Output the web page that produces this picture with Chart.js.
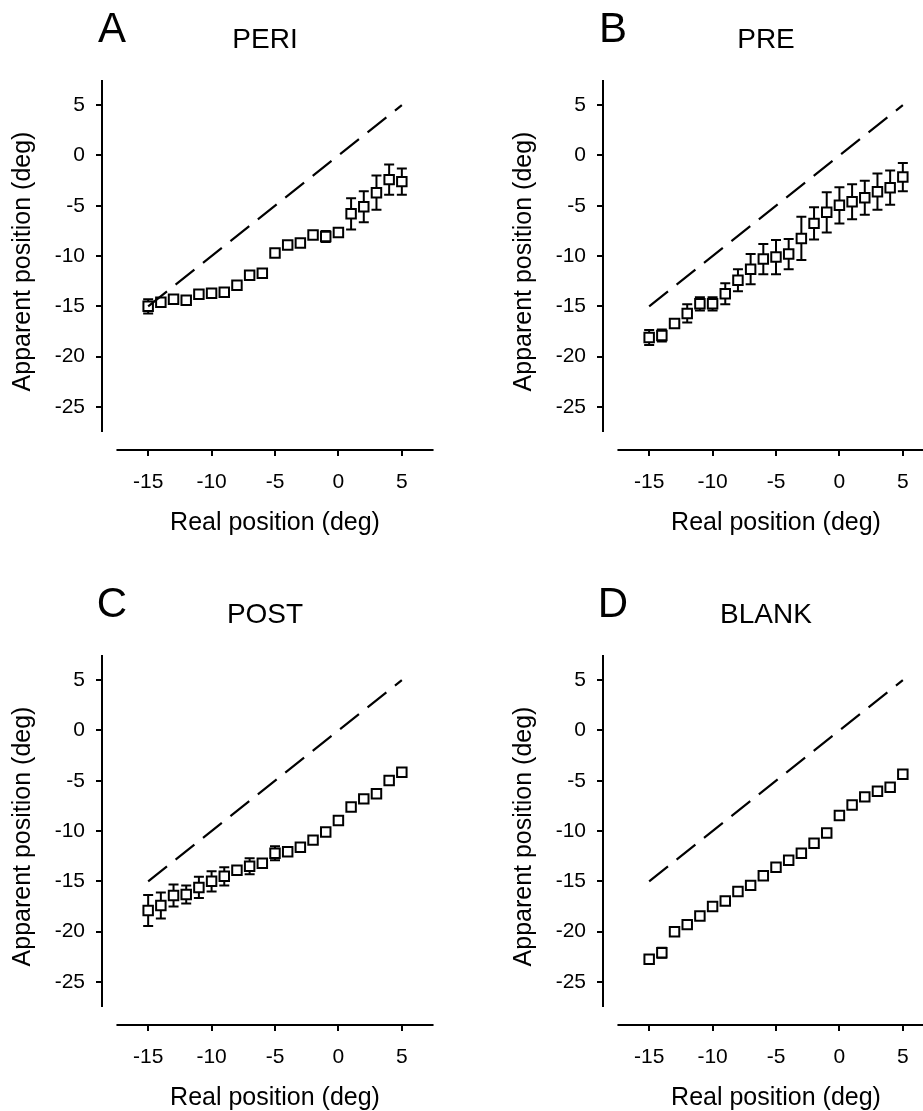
<!DOCTYPE html>
<html>
<head>
<meta charset="utf-8">
<script src="https://cdn.jsdelivr.net/npm/chart.js@4.4.0/dist/chart.umd.min.js"></script>
<style>
body { margin:0; background:#fff; overflow:hidden; width:923px; height:1111px; position:relative;
       font-family:"Liberation Sans", Arial, sans-serif; }
.panel { position:absolute; width:460px; height:560px; }
.lbl { position:absolute; transform:translate(-50%,-50%); line-height:1; color:#000; white-space:nowrap; }
</style>
</head>
<body>

<div class="panel" style="left:0px;top:0px"><canvas id="chartA"></canvas></div>
<div class="panel" style="left:501px;top:0px"><canvas id="chartB"></canvas></div>
<div class="panel" style="left:0px;top:575px"><canvas id="chartC"></canvas></div>
<div class="panel" style="left:501px;top:575px"><canvas id="chartD"></canvas></div>

<div class="lbl" style="left:112px;top:28px;font-size:42px">A</div>
<div class="lbl" style="left:265px;top:39px;font-size:28px">PERI</div>
<div class="lbl" style="left:613px;top:28px;font-size:42px">B</div>
<div class="lbl" style="left:766px;top:39px;font-size:28px">PRE</div>
<div class="lbl" style="left:112px;top:603px;font-size:42px">C</div>
<div class="lbl" style="left:265px;top:614px;font-size:28px">POST</div>
<div class="lbl" style="left:613px;top:603px;font-size:42px">D</div>
<div class="lbl" style="left:766px;top:614px;font-size:28px">BLANK</div>

<script>
// real target positions (deg)
const realPos = [-15,-14,-13,-12,-11,-10,-9,-8,-7,-6,-5,-4,-3,-2,-1,0,1,2,3,4,5];

// apparent position means and error bars
const periMean = [-15.0,-14.6,-14.3,-14.4,-13.8,-13.7,-13.6,-12.9,-11.9,-11.7,-9.7,-8.9,-8.7,-7.9,-8.05,-7.65,-5.8,-5.1,-3.7,-2.4,-2.6];
const periErr  = [0.7,0.3,0.3,0.2,0.2,0.2,0.2,0.2,0.2,0.2,0.3,0.4,0.3,0.4,0.55,0.3,1.55,1.55,1.7,1.5,1.3];

const preMean = [-18.1,-17.9,-16.7,-15.7,-14.75,-14.75,-13.75,-12.4,-11.3,-10.3,-10.1,-9.8,-8.25,-6.75,-5.65,-4.95,-4.6,-4.2,-3.6,-3.2,-2.15];
const preErr  = [0.75,0.6,0.3,0.9,0.65,0.65,1.05,1.1,1.5,1.5,1.7,1.5,2.15,1.6,2.0,1.8,1.75,1.7,1.8,1.7,1.4];

const postMean = [-17.9,-17.4,-16.4,-16.3,-15.6,-15.0,-14.5,-13.9,-13.5,-13.2,-12.2,-12.05,-11.6,-10.9,-10.1,-8.95,-7.6,-6.8,-6.3,-4.97,-4.15];
const postErr  = [1.55,1.3,1.1,0.9,1.05,1.0,0.9,0.3,0.8,0.3,0.7,0.3,0.4,0.3,0.3,0.45,0.3,0.3,0.3,0.3,0.3];

const blankMean = [-22.75,-22.1,-20.0,-19.3,-18.45,-17.5,-16.95,-16.0,-15.4,-14.45,-13.6,-12.9,-12.2,-11.2,-10.2,-8.45,-7.4,-6.6,-6.05,-5.65,-4.35];
const blankErr  = [0.4,0.5,0.2,0.2,0.2,0.2,0.2,0.3,0.2,0.2,0.2,0.2,0.2,0.2,0.35,0.2,0.2,0.2,0.2,0.2,0.2];

// identity (veridical) line end points
const identityX = [-15, 5];

const xTicks = [-15,-10,-5,0,5];
const yTicks = [5,0,-5,-10,-15,-20,-25];

// drawn extent of the axis lines
const xAxisSpan = [-17.5, 7.5];
const yAxisSpan = [-27.5, 7.5];

const FONT = '"Liberation Sans", Arial, sans-serif';

// error bars behind the squares
const errorBars = {
  id: 'errorBars',
  beforeDatasetsDraw(chart) {
    const ctx = chart.ctx;
    const ys = chart.scales.y;
    chart.data.datasets.forEach((ds, i) => {
      if (!ds.errors) return;
      const meta = chart.getDatasetMeta(i);
      ctx.save();
      ctx.strokeStyle = '#000';
      ctx.lineWidth = 2;
      meta.data.forEach((pt, j) => {
        const v = ds.data[j].y, e = ds.errors[j];
        const top = ys.getPixelForValue(v + e);
        const bot = ys.getPixelForValue(v - e);
        ctx.beginPath();
        ctx.moveTo(pt.x, top); ctx.lineTo(pt.x, bot);
        ctx.moveTo(pt.x - 5, top); ctx.lineTo(pt.x + 5, top);
        ctx.moveTo(pt.x - 5, bot); ctx.lineTo(pt.x + 5, bot);
        ctx.stroke();
      });
      ctx.restore();
    });
  }
};

// offset axis lines (y axis and x axis do not meet)
const axisLines = {
  id: 'axisLines',
  afterDraw(chart) {
    const ctx = chart.ctx;
    const xs = chart.scales.x, ys = chart.scales.y;
    const area = chart.chartArea;
    ctx.save();
    ctx.strokeStyle = '#000';
    ctx.lineWidth = 2;
    ctx.beginPath();
    ctx.moveTo(area.left, ys.getPixelForValue(yAxisSpan[1]));
    ctx.lineTo(area.left, ys.getPixelForValue(yAxisSpan[0]));
    ctx.moveTo(xs.getPixelForValue(xAxisSpan[0]), area.bottom);
    ctx.lineTo(xs.getPixelForValue(xAxisSpan[1]), area.bottom);
    ctx.stroke();
    ctx.restore();
  }
};

function makePanel(id, mean, err) {
  const pts = realPos.map((x, i) => ({x: x, y: mean[i]}));
  const ident = identityX.map(x => ({x: x, y: x}));
  new Chart(document.getElementById(id), {
    type: 'scatter',
    data: {
      datasets: [
        {
          data: ident,
          showLine: true,
          borderColor: '#000',
          borderWidth: 2.2,
          borderDash: [24, 11],
          pointRadius: 0
        },
        {
          data: pts,
          errors: err,
          pointStyle: 'rect',
          pointRadius: 6.7,
          pointBorderWidth: 2,
          pointBorderColor: '#000',
          pointBackgroundColor: '#fff'
        }
      ]
    },
    options: {
      responsive: false,
      animation: false,
      devicePixelRatio: 1,
      layout: { padding: { top: 73, right: 12, left: 0, bottom: 0 } },
      plugins: { legend: { display: false }, tooltip: { enabled: false } },
      scales: {
        x: {
          type: 'linear',
          min: -18.64, max: 8.64,
          afterBuildTicks: s => { s.ticks = xTicks.map(v => ({value: v})); },
          afterFit: s => { s.height = 110; },
          grid: { drawOnChartArea: false, drawTicks: true, tickLength: 6, color: '#000', lineWidth: 2 },
          border: { display: false },
          ticks: { color: '#000', padding: 14, font: { family: FONT, size: 21 } },
          title: { display: true, text: 'Real position (deg)', color: '#000',
                   padding: { top: 0, bottom: 22 }, font: { family: FONT, size: 25 } }
        },
        y: {
          type: 'linear',
          min: -29.28, max: 8.2,
          afterBuildTicks: s => { s.ticks = yTicks.map(v => ({value: v})); },
          afterFit: s => { s.width = 102; },
          grid: { drawOnChartArea: false, drawTicks: true, tickLength: 6, color: '#000', lineWidth: 2 },
          border: { display: false },
          ticks: { color: '#000', padding: 11, font: { family: FONT, size: 21 } },
          title: { display: true, text: 'Apparent position (deg)', color: '#000',
                   padding: { top: 8, bottom: 0 }, font: { family: FONT, size: 25 } }
        }
      }
    },
    plugins: [errorBars, axisLines]
  });
}

document.querySelectorAll('canvas').forEach(c => { c.width = 460; c.height = 560; });

makePanel('chartA', periMean, periErr);
makePanel('chartB', preMean, preErr);
makePanel('chartC', postMean, postErr);
makePanel('chartD', blankMean, blankErr);
</script>
</body>
</html>
